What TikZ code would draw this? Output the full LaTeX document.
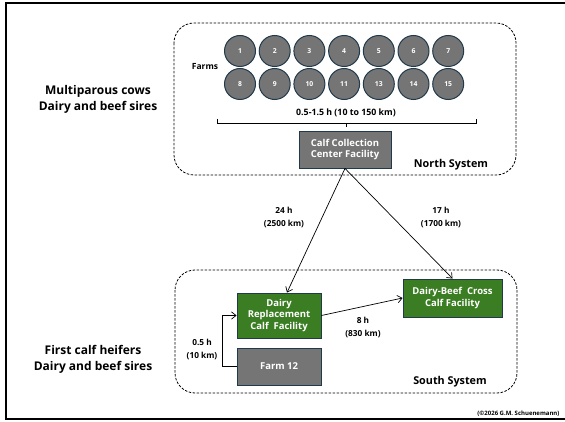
\documentclass[tikz,border=0pt]{standalone}
\usepackage{fontspec}
\setmainfont{Open Sans}
\usetikzlibrary{arrows.meta,positioning,calc}
\definecolor{farmgrey}{RGB}{117,117,117}
\definecolor{edgeteal}{RGB}{32,58,76}
\definecolor{facgreen}{RGB}{58,125,34}
\tikzset{
  farm/.style={circle,draw=edgeteal,fill=farmgrey,line width=1pt,minimum size=31pt,
               inner sep=0pt,text=white,font=\fontsize{6.8}{8}\selectfont\bfseries},
  fac/.style={draw=edgeteal,line width=.9pt,text=white,align=center,inner sep=0pt,
              font=\fontsize{9.5}{11.5}\selectfont\bfseries},
  greyfac/.style={fac,fill=farmgrey},
  greenfac/.style={fac,fill=facgreen},
  system/.style={draw,dash pattern=on 2.5pt off 1.5pt,rounded corners=20pt,line width=.8pt},
  route/.style={-{Straight Barb[length=1.6mm,width=2.6mm]},line width=.7pt},
  lbl/.style={font=\fontsize{8.3}{12.5}\selectfont\bfseries,align=center},
  group/.style={font=\fontsize{12}{16}\selectfont\bfseries,align=center},
  syslbl/.style={font=\fontsize{10.8}{13}\selectfont\bfseries},
}
\begin{document}
\begin{tikzpicture}[x=1pt,y=-1pt]
  \useasboundingbox (0,0) rectangle (565,422);
  \draw[line width=2pt] (567,3) -- (6,3) -- (6,419) -- (567,419);
  % systems
  \draw[system] (174,23) rectangle (516,175);
  \draw[system] (175,270) rectangle (517,393);
  \node[syslbl] (north) at (451,165) {North System};
  \node[syslbl] (south) at (450,382) {South System};
  % farms
  \node[font=\fontsize{8.5}{10}\selectfont\bfseries] (farmslbl) at (205,67) {Farms};
  \foreach \n/\i in {1/0,2/1,3/2,4/3,5/4,6/5,7/6}
    {\node[farm] (f\n) at (240+34.7*\i,51) {\n};}
  \foreach \n/\i in {8/0,9/1,10/2,11/3,13/4,14/5,15/6}
    {\node[farm] (f\n) at (240+34.7*\i,84) {\n};}
  \draw[line width=.8pt] (217,119) -- (217,123) -- (476,123) -- (476,119);
  \draw[line width=.8pt] (346,123) -- (346,127);
  \node[lbl,font=\fontsize{8.8}{10}\selectfont\bfseries] (near) at (346,113) {0.5-1.5 h (10 to 150 km)};
  \node[greyfac,minimum width=92pt,minimum height=37pt] (coll) at (345,149.5)
    {Calf Collection\\Center Facility};
  % south facilities
  \node[greenfac,minimum width=84pt,minimum height=45pt] (rep) at (279,315.5)
    {Dairy\\Replacement\\Calf\ \ Facility};
  \node[greyfac,minimum width=84pt,minimum height=37pt] (f12) at (279,366.5) {Farm 12};
  \node[greenfac,minimum width=99pt,minimum height=38pt] (cross) at (452.5,298)
    {Dairy-Beef\ \ Cross\\Calf Facility};
  % routes
  \draw[route] (coll.south) -- ([xshift=8pt]rep.north);
  \draw[route] (coll.south) -- (cross.north);
  \draw[route] (rep.east) -- (cross.west);
  \draw[route] (f12.west) -- ++(-14,0) |- (rep.west);
  \node[lbl] (l24) at (284,217.5) {24 h\\(2500 km)};
  \node[lbl] (l17) at (441,217.5) {17 h\\(1700 km)};
  \node[lbl] (l8) at (363,327.5) {8 h\\(830 km)};
  \node[lbl] (l05) at (202,349.5) {0.5 h\\(10 km)};
  % groups
  \node[group] (gnorth) at (98,99) {Multiparous cows\\Dairy and beef sires};
  \node[group] (gsouth) at (93,359) {First calf heifers\\Dairy and beef sires};
  \node[font=\fontsize{6}{7}\selectfont\bfseries,anchor=east] (copy) at (563,414)
    {(©2026 G.M. Schuenemann)};
\end{tikzpicture}
\end{document}
